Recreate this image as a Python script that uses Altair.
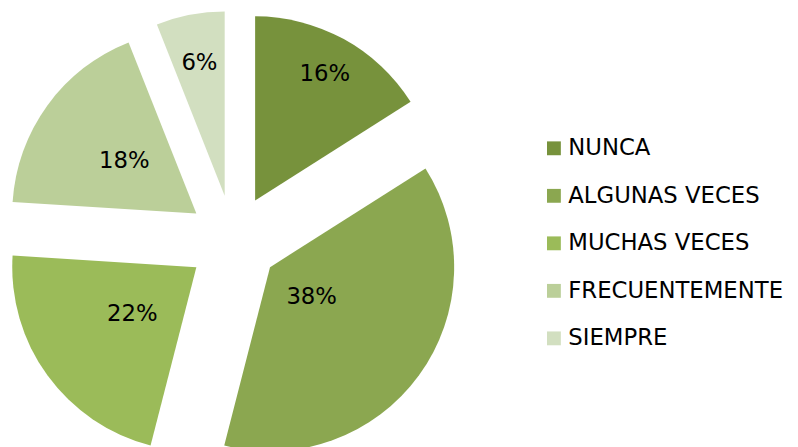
import altair as alt
import pandas as pd

CATS = ["NUNCA", "ALGUNAS VECES", "MUCHAS VECES", "FRECUENTEMENTE", "SIEMPRE"]
VALS = [16, 38, 22, 18, 6]
LABELS = ["16%", "38%", "22%", "18%", "6%"]
COLORS = ["#77923C", "#8BA750", "#9BBB59", "#BBCF99", "#D2DFC0"]

# layout constants (pixels)
CX, CY = 227.5, 232.5   # pie centre
EXPLODE = 46            # explosion distance
R = 186                 # slice radius
LABEL_R = [146, 52, 80, 90, 136]  # label distance from each slice apex

df = pd.DataFrame({"cat": CATS, "value": VALS, "label": LABELS,
                   "order": list(range(len(CATS))), "lr": LABEL_R})

base = alt.Chart(df).transform_joinaggregate(
    total="sum(value)"
).transform_window(
    cum="sum(value)", sort=[{"field": "order"}], frame=[None, 0]
).transform_calculate(
    start="(datum.cum - datum.value) / datum.total * 2 * PI",
    end="datum.cum / datum.total * 2 * PI",
).transform_calculate(
    mid="(datum.start + datum.end) / 2",
).transform_calculate(
    px=f"{CX} + {EXPLODE} * sin(datum.mid)",
    py=f"{CY} - {EXPLODE} * cos(datum.mid)",
)

arcs = base.mark_arc(outerRadius=R).encode(
    x=alt.X("px:Q", scale=None),
    y=alt.Y("py:Q", scale=None),
    theta=alt.Theta("start:Q", scale=None),
    theta2="end:Q",
    color=alt.Color(
        "cat:N",
        scale=alt.Scale(domain=CATS, range=COLORS),
        sort=CATS,
        legend=alt.Legend(
            title=None, orient="none", legendX=540, legendY=128,
            symbolType="square", symbolSize=196, symbolStrokeWidth=0,
            labelFont="DejaVu Sans", labelFontSize=23, labelColor="#000000",
            labelOffset=3, rowPadding=24, labelLimit=400,
        ),
    ),
)

texts = base.mark_text(font="DejaVu Sans", fontSize=23, color="#000000",
                       align="center", baseline="middle").encode(
    x=alt.X("px:Q", scale=None),
    y=alt.Y("py:Q", scale=None),
    theta=alt.Theta("mid:Q", scale=None, stack=False),
    radius=alt.Radius("lr:Q", scale=None),
    text="label:N",
)

chart = alt.layer(arcs, texts).properties(
    width=790, height=439, padding=0, autosize="none"
).configure_view(stroke=None)

chart.save("out.html", embed_options={"renderer": "svg", "actions": False})
